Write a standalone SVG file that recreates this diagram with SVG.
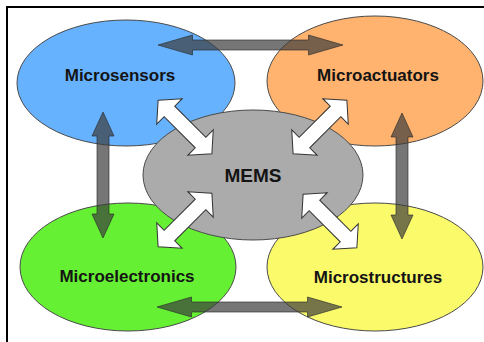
<svg xmlns="http://www.w3.org/2000/svg" width="484" height="342" viewBox="0 0 484 342">
<style>
.node ellipse{stroke:#4a4a4a;stroke-width:1}
.lbl{font-family:"Liberation Sans",Arial,sans-serif;font-weight:bold;font-size:17px;fill:#141414;text-anchor:middle}
.big{font-size:19px}
.dark{fill:#3c3c3c;fill-opacity:0.7;stroke:#2a2a2a;stroke-width:0.8;stroke-opacity:0.8}
.white{fill:#ffffff;stroke:#333;stroke-width:1}
</style>
<defs>
<polygon id="wa" points="-38,0 -22,-18 -22,-7.5 22,-7.5 22,-18 38,0 22,18 22,7.5 -22,7.5 -22,18"/>
<polygon id="ha" points="-92.5,0 -58,-10 -58,-5 58,-5 58,-10 92.5,0 58,10 58,5 -58,5 -58,10"/>
<polygon id="va" points="0,-63 -11,-39 -6,-39 -6,39 -11,39 0,63 11,39 6,39 6,-39 11,-39"/>
</defs>
<rect width="484" height="342" fill="#ffffff"/>
<g id="frame" stroke="#000" stroke-width="2" fill="none">
<line x1="7" y1="342" x2="7" y2="7"/>
<line x1="6" y1="7" x2="484" y2="7"/>
</g>
<g id="microsensors" class="node">
<ellipse cx="126" cy="83" rx="109" ry="63" fill="#66b2ff"/>
<text class="lbl" x="120" y="81">Microsensors</text>
</g>
<g id="microactuators" class="node">
<ellipse cx="375" cy="81" rx="108" ry="65" fill="#ffb36e"/>
<text class="lbl" x="378" y="81">Microactuators</text>
</g>
<g id="microelectronics" class="node">
<ellipse cx="128" cy="267" rx="108" ry="64" fill="#66f033"/>
<text class="lbl" x="127" y="282">Microelectronics</text>
</g>
<g id="microstructures" class="node">
<ellipse cx="375" cy="267" rx="108" ry="64" fill="#fafa6a"/>
<text class="lbl" x="378" y="283">Microstructures</text>
</g>
<g id="mems" class="node">
<ellipse cx="253" cy="175" rx="110" ry="65" fill="#ababab"/>
<text class="lbl big" x="253" y="182">MEMS</text>
</g>
<g id="connectors">
<use href="#ha" class="dark" x="250.5" y="45"/>
<use href="#ha" class="dark" x="249.5" y="307"/>
<use href="#va" class="dark" x="103" y="175"/>
<use href="#va" class="dark" x="402" y="176"/>
<use href="#wa" class="white" transform="translate(185,127) rotate(45)"/>
<use href="#wa" class="white" transform="translate(320,127) rotate(-45)"/>
<use href="#wa" class="white" transform="translate(185,220) rotate(-45)"/>
<use href="#wa" class="white" transform="translate(330,221) rotate(45)"/>
</g>
</svg>
